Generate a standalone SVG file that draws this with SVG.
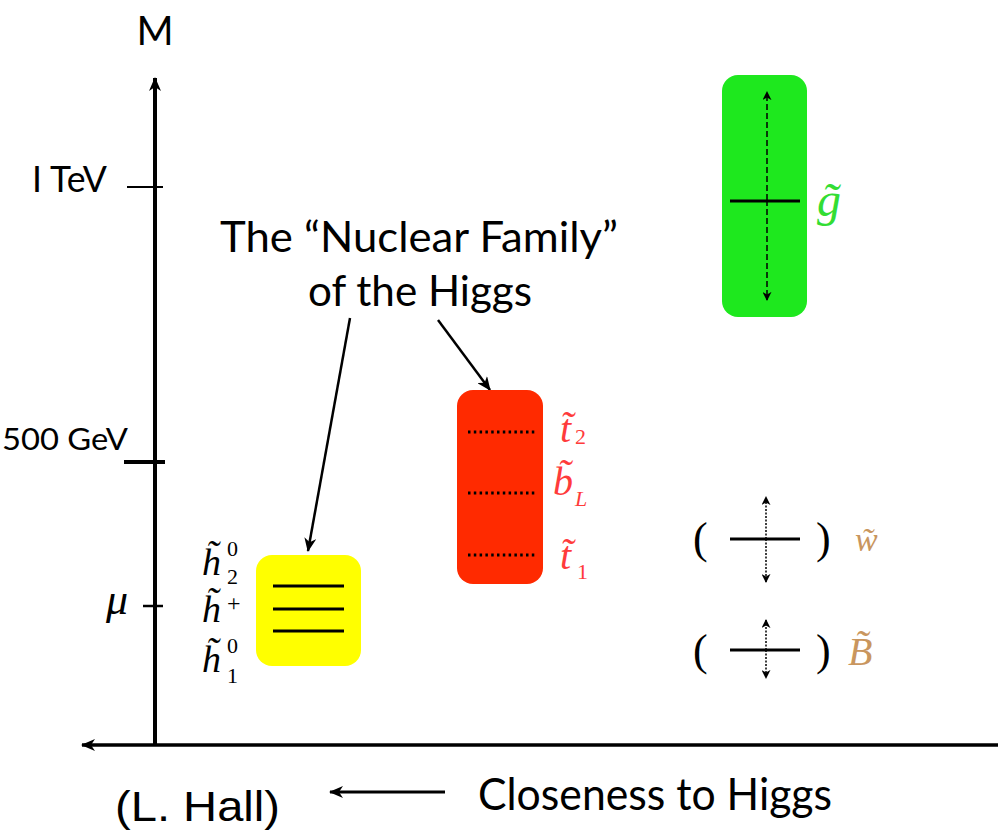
<svg xmlns="http://www.w3.org/2000/svg" width="998" height="833" viewBox="0 0 998 833">
<defs>
<style>
.sans{font-family:Lato,"Open Sans","DejaVu Sans",sans-serif;fill:#000}
.m{font-family:"Liberation Serif","DejaVu Serif",serif;font-style:italic}
.r{font-family:"Liberation Serif","DejaVu Serif",serif}
.ax{stroke:#000;fill:none}
.bar{stroke:#000;stroke-width:3;fill:none}
</style>
<marker id="ah" viewBox="0 0 14 12" refX="13" refY="6" markerWidth="14" markerHeight="12" markerUnits="userSpaceOnUse" orient="auto">
<path d="M0,0 L14,6 L0,12 L4,6 z" fill="#000"/>
</marker>
<marker id="sh" viewBox="0 0 10 10" refX="9" refY="5" markerWidth="9" markerHeight="9" markerUnits="userSpaceOnUse" orient="auto">
<path d="M0,0 L10,5 L0,10 L3,5 z" fill="#000"/>
</marker>
</defs>
<rect width="998" height="833" fill="#fff"/>

<g id="axes">
<line class="ax" x1="155" y1="745" x2="155" y2="78" stroke-width="4" marker-end="url(#ah)"/>
<line class="ax" x1="998" y1="745" x2="82" y2="745" stroke-width="3.5" marker-end="url(#ah)"/>
<line class="ax" x1="127" y1="187" x2="163" y2="187" stroke-width="2"/>
<line class="ax" x1="124" y1="462" x2="165" y2="462" stroke-width="4"/>
<line class="ax" x1="143" y1="606" x2="163" y2="606" stroke-width="2.5"/>
<text class="sans" x="155" y="45" font-size="40" text-anchor="middle">M</text>
<text class="sans" x="32" y="192" font-size="36" textLength="75" lengthAdjust="spacingAndGlyphs">I TeV</text>
<text class="sans" x="2" y="450" font-size="30" textLength="126" lengthAdjust="spacingAndGlyphs">500 GeV</text>
<text class="m" x="106" y="614" font-size="44">μ</text>
</g>

<g id="title">
<text class="sans" x="220" y="252" font-size="42" textLength="398" lengthAdjust="spacingAndGlyphs">The “Nuclear Family”</text>
<text class="sans" x="308" y="306" font-size="42" textLength="224" lengthAdjust="spacingAndGlyphs">of the Higgs</text>
</g>

<g id="connectors">
<line class="ax" x1="350" y1="318" x2="308" y2="551" stroke-width="2.5" marker-end="url(#ah)"/>
<line class="ax" x1="438" y1="320" x2="490" y2="390" stroke-width="2.5" marker-end="url(#ah)"/>
<line class="ax" x1="445" y1="792" x2="330" y2="792" stroke-width="3" marker-end="url(#ah)"/>
</g>

<g id="higgsinos">
<rect x="256" y="555" width="105" height="111" rx="16" fill="#FFFF00"/>
<line class="bar" x1="273" y1="586" x2="344" y2="586"/>
<line class="bar" x1="273" y1="609" x2="344" y2="609"/>
<line class="bar" x1="273" y1="631" x2="344" y2="631"/>
<g fill="#000">
<text class="m" x="202" y="575" font-size="38">h&#x303;</text>
<text class="r" x="227" y="556" font-size="22">0</text>
<text class="r" x="227" y="584" font-size="22">2</text>
<text class="m" x="202" y="622" font-size="38">h&#x303;</text>
<text class="r" x="227" y="611" font-size="24">+</text>
<text class="m" x="202" y="672" font-size="38">h&#x303;</text>
<text class="r" x="227" y="653" font-size="22">0</text>
<text class="r" x="227" y="683" font-size="22">1</text>
</g>
</g>

<g id="stops">
<rect x="457" y="390" width="86" height="194" rx="16" fill="#FF2A00"/>
<g stroke="#000" stroke-width="3" stroke-dasharray="2.5,3.3">
<line x1="468" y1="432" x2="537" y2="432"/>
<line x1="468" y1="493" x2="537" y2="493"/>
<line x1="468" y1="555" x2="537" y2="555"/>
</g>
<g fill="#FF3B3B">
<text class="m" x="560" y="442" font-size="40">t&#x303;</text>
<text class="r" x="575" y="444" font-size="22">2</text>
<text class="m" x="553" y="495" font-size="40">b&#x303;</text>
<text class="m" x="575" y="506" font-size="22">L</text>
<text class="m" x="560" y="569" font-size="40">t&#x303;</text>
<text class="r" x="577" y="579" font-size="22">1</text>
</g>
</g>

<g id="gluino">
<rect x="722" y="75" width="85" height="242" rx="16" fill="#1EE81E"/>
<line class="bar" x1="730" y1="201" x2="800" y2="201"/>
<line x1="767" y1="200" x2="767" y2="92" stroke="#000" stroke-width="1.5" stroke-dasharray="6,3" marker-end="url(#sh)"/>
<line x1="767" y1="200" x2="767" y2="300" stroke="#000" stroke-width="1.5" stroke-dasharray="6,3" marker-end="url(#sh)"/>
<text class="m" x="817" y="216" font-size="48" fill="#33DD33">g&#x303;</text>
</g>

<g id="wino">
<text class="r" x="693" y="553" font-size="44">(</text>
<text class="r" x="816" y="553" font-size="44">)</text>
<line class="bar" x1="730" y1="539" x2="800" y2="539"/>
<line x1="766" y1="539" x2="766" y2="497" stroke="#000" stroke-width="1.5" stroke-dasharray="2,1.5" marker-end="url(#sh)"/>
<line x1="766" y1="539" x2="766" y2="582" stroke="#000" stroke-width="1.5" stroke-dasharray="2,1.5" marker-end="url(#sh)"/>
<text class="m" x="855" y="551" font-size="34" fill="#C9965E">w&#x303;</text>
</g>

<g id="bino">
<text class="r" x="693" y="665" font-size="44">(</text>
<text class="r" x="816" y="665" font-size="44">)</text>
<line class="bar" x1="730" y1="650" x2="800" y2="650"/>
<line x1="766" y1="650" x2="766" y2="620" stroke="#000" stroke-width="1.5" stroke-dasharray="2,1.5" marker-end="url(#sh)"/>
<line x1="766" y1="650" x2="766" y2="678" stroke="#000" stroke-width="1.5" stroke-dasharray="2,1.5" marker-end="url(#sh)"/>
<text class="m" x="848" y="665" font-size="40" fill="#C9965E">B&#x303;</text>
</g>

<g id="footer">
<text class="sans" x="478" y="810" font-size="44" textLength="354" lengthAdjust="spacingAndGlyphs">Closeness to Higgs</text>
<text x="115" y="821" font-family="'Liberation Sans',Arial,sans-serif" font-size="42" textLength="165" lengthAdjust="spacingAndGlyphs">(L. Hall)</text>
</g>
</svg>
